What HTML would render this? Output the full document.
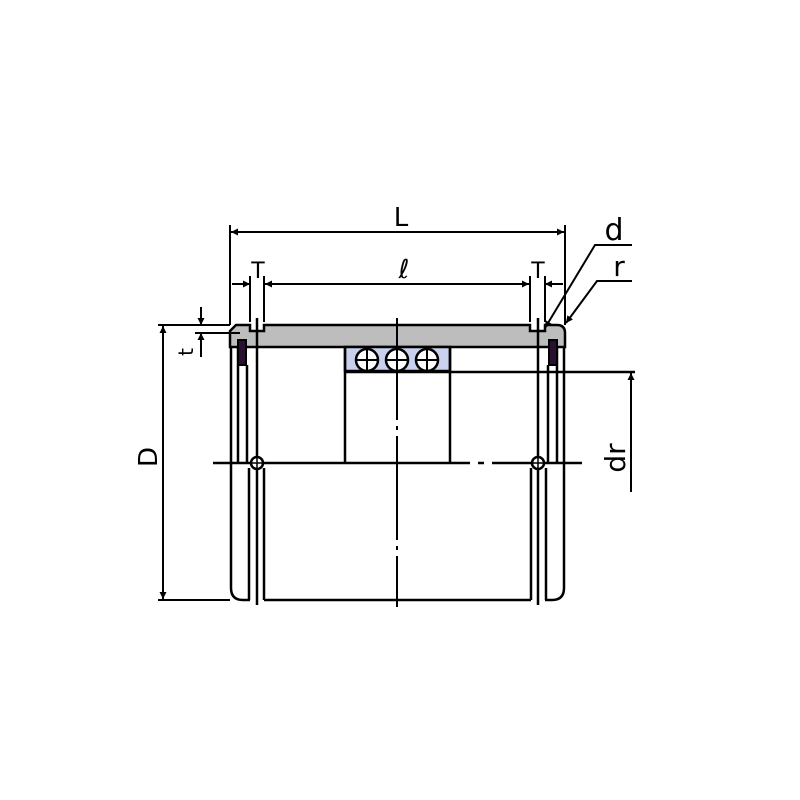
<!DOCTYPE html>
<html><head><meta charset="utf-8"><style>body{margin:0;background:#fff}svg{display:block}</style></head><body>
<svg width="800" height="800" viewBox="0 0 800 800" xmlns="http://www.w3.org/2000/svg" font-family="DejaVu Sans, Liberation Sans, sans-serif">
<defs>
<marker id="a" viewBox="0 0 10 10" refX="10" refY="5" markerWidth="10" markerHeight="7" orient="auto-start-reverse" markerUnits="userSpaceOnUse"><path d="M0,0L10,5L0,10z" fill="#000"/></marker>
</defs>
<g stroke="#000" stroke-width="2.5" fill="none">
<path d="M236,325 L250,325 L250,331 L264,331 L264,325 L530,325 L530,331 L545,331 L545,325 L557,325 Q565,325 565,333 L565,347 L230,347 L230,331 Z" fill="#bdbdbd"/>
<rect x="345" y="347" width="105" height="24" fill="#c9d1ee"/>
<circle cx="367" cy="360" r="11" fill="#fff"/><circle cx="397" cy="360" r="11" fill="#fff"/><circle cx="427" cy="360" r="11" fill="#fff"/>
<path d="M356,360H378M367,349V371M386,360H408M416,360H438M427,349V371" stroke-width="2"/>
<path d="M345,347V463M450,347V463M345,372H635"/>
<path d="M231,347V588Q231,600 243,600H250"/>
<path d="M238,347V463M247,365V463"/>
<rect x="238" y="340" width="8" height="25" fill="#2a1030" stroke-width="2"/>
<path d="M257,318V605M249,468V600M264,468V600"/>
<path d="M564,347V588Q564,600 552,600H545"/>
<path d="M557,347V463M548,365V463"/>
<rect x="549" y="340" width="8" height="25" fill="#2a1030" stroke-width="2"/>
<path d="M538,318V605M546,468V600M531,468V600"/>
<path d="M264,600H531"/>
<path d="M213,463H345M345,463H450M450,463H470M478,463H484M492,463H582"/>
<path d="M397,318V420M397,426V430M397,436V540M397,546V550M397,556V607" stroke-width="2"/>
<circle cx="257" cy="463" r="6" fill="#fff"/><circle cx="538" cy="463" r="6" fill="#fff"/>
<path d="M251,463H263M257,457V469M532,463H544M538,457V469" stroke-width="1.5"/>
<g stroke-width="2">
<path d="M230,225V325M565,225V325"/>
<path d="M231,232H564" marker-start="url(#a)" marker-end="url(#a)"/>
<path d="M250,276V322M264,276V322M530,276V322M545,276V322"/>
<path d="M265,284H529" marker-start="url(#a)" marker-end="url(#a)"/>
<path d="M232,284H250" marker-end="url(#a)"/>
<path d="M545,284H563" marker-start="url(#a)"/>
<path d="M158,325H230M158,600H230"/>
<path d="M163,326V599" marker-start="url(#a)" marker-end="url(#a)"/>
<path d="M195,333H240"/>
<path d="M201,307V325" marker-end="url(#a)"/>
<path d="M201,357V333" marker-end="url(#a)"/>
<path d="M631,492V373" marker-end="url(#a)"/>
<path d="M632,245H595L545,328" marker-end="url(#a)"/>
<path d="M632,281H597L566,323" marker-end="url(#a)"/>
</g>
</g>
<g font-size="26" fill="#000">
<text x="401" y="226" text-anchor="middle">L</text>
<text x="404" y="278" text-anchor="middle" font-style="italic">ℓ</text>
<text x="258" y="278" text-anchor="middle" font-size="22">T</text>
<text x="538" y="278" text-anchor="middle" font-size="22">T</text>
<text x="614" y="240" text-anchor="middle" font-size="30">d</text>
<text x="619" y="276" text-anchor="middle" font-size="28">r</text>
<text transform="translate(157,457) rotate(-90)" text-anchor="middle">D</text>
<text transform="translate(193,352) rotate(-90)" text-anchor="middle" font-size="20">t</text>
<text transform="translate(625,458) rotate(-90)" text-anchor="middle" font-size="28">dr</text>
</g>
</svg>
</body></html>
